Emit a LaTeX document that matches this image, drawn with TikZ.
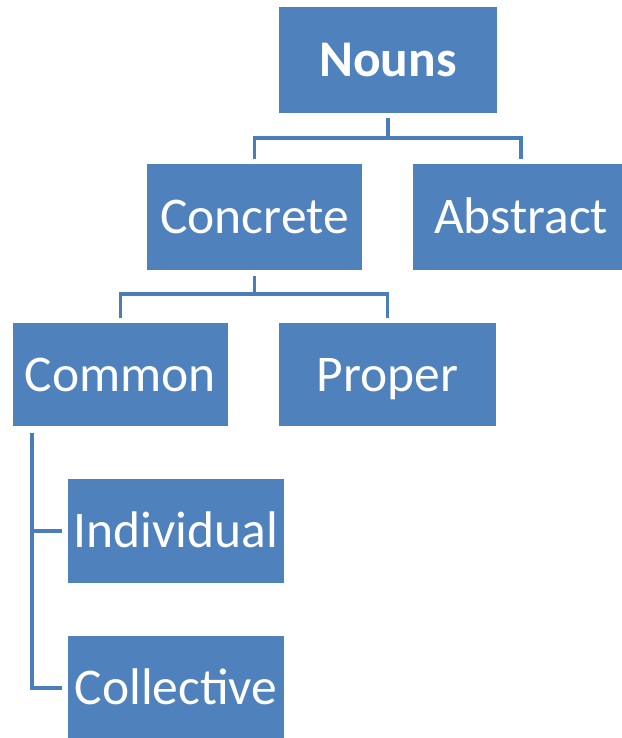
\documentclass[tikz,border=0pt]{standalone}
\usepackage{fontspec}
\setmainfont{Carlito}
\definecolor{boxblue}{HTML}{4F81BD}
\definecolor{linkblue}{HTML}{4A7EBB}
\begin{document}
\begin{tikzpicture}[x=1pt,y=-1pt,
  box/.style={fill=boxblue,draw=none,text=white,inner sep=0pt,
    minimum width=216pt,minimum height=105pt,
    font=\fontsize{51.5}{60}\selectfont,text height=33pt,text depth=0pt},
  conn/.style={draw=linkblue,line width=3.6pt}]
\useasboundingbox (0,0) rectangle (621,738);
\node[box,font=\fontsize{51.5}{60}\selectfont\bfseries,minimum width=218pt,minimum height=106pt] (nouns) at (388,60) {Nouns};
\node[box,minimum width=215pt,minimum height=106pt] (concrete) at (254.5,217) {Concrete};
\node[box,minimum height=106pt] (abstract) at (521,217) {Abstract};
\node[box,minimum width=215pt,minimum height=103pt] (common) at (120.5,374.5) {Common};
\node[box,minimum width=217pt,minimum height=103pt] (proper) at (387.5,374.5) {Proper};
\node[box,minimum height=104pt] (individual) at (176,531) {Individual};
\node[box,minimum height=104pt] (collective) at (176,688) {Collective};
% Nouns
\draw[conn] ([yshift=-5pt]nouns.south) -- ([yshift=-25pt]nouns.south) coordinate (n1);
\draw[conn] ([yshift=5pt]concrete.north) |- (n1) -| ([yshift=5pt]abstract.north);
% Concrete
\draw[conn] ([yshift=-6pt]concrete.south) -- ([yshift=-24pt]concrete.south) coordinate (c1);
\draw[conn] ([yshift=5pt]common.north) |- (c1) -| ([yshift=5pt]proper.north);
% Common
\coordinate (m1) at ([xshift=19pt,yshift=-7pt]common.south west);
\draw[conn] (m1) |- ([xshift=-6pt]collective.west);
\draw[conn] (m1 |- individual.west) -- ([xshift=-6pt]individual.west);
\end{tikzpicture}
\end{document}
